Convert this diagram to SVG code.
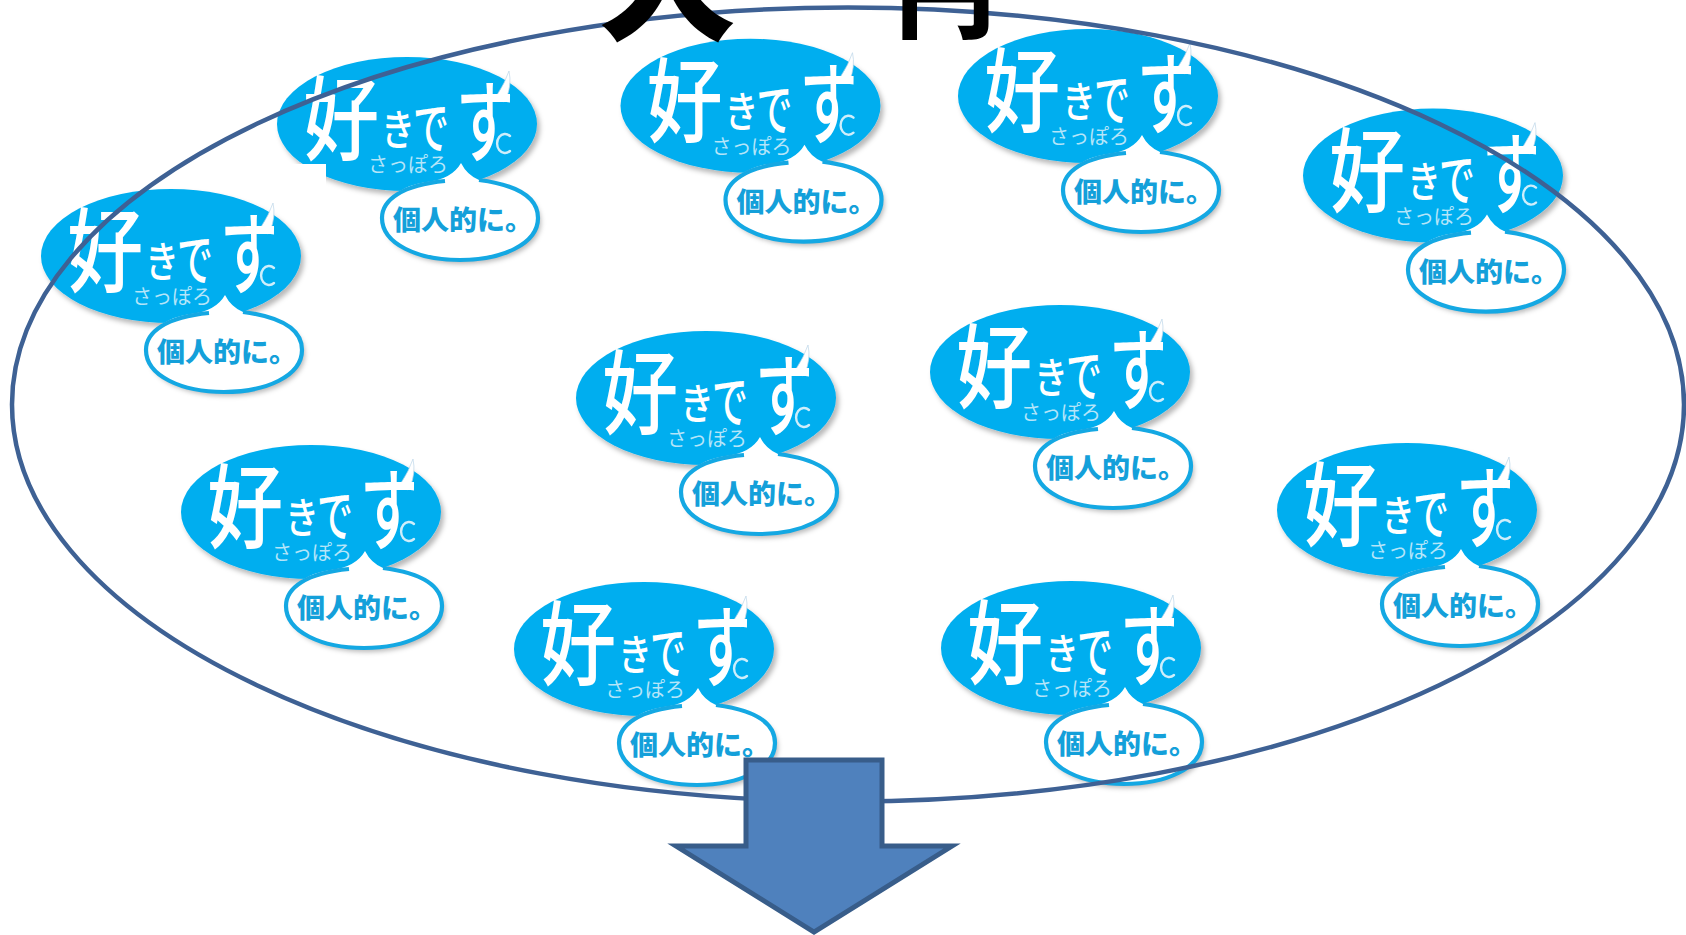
<svg xmlns="http://www.w3.org/2000/svg" width="1686" height="935" viewBox="0 0 1686 935">
<style>
.bg{fill:#fff}
.oval{fill:#00aeef}
.bub{fill:#fff}
.bubl{fill:none;stroke:#14a8e3;stroke-width:4.2}
.sh{filter:url(#s)}
.w{font-family:"Noto Sans CJK JP","Noto Sans",sans-serif;font-weight:500;fill:#fff}
.a{font-size:80px}.b{font-size:34px}.c{font-size:36px}.d{font-size:58px}
.sap{font-family:"Noto Sans CJK JP",sans-serif;font-size:20px;fill:#b5e5f9}
.kj{font-family:"Noto Sans CJK JP",sans-serif;font-weight:900;font-size:27px;fill:#14a0da}
.hk{fill:none;stroke:#cfeefb;stroke-width:2.4;stroke-linecap:round}
.q{fill:#fff;stroke:#bcd6e8;stroke-width:.7}
.ttl{font-family:"Noto Sans CJK JP",sans-serif;font-weight:900;fill:#000}
</style>
<defs>
<filter id="s" x="-10%" y="-10%" width="125%" height="125%"><feDropShadow dx="3" dy="4" stdDeviation="2.5" flood-color="#000" flood-opacity=".28"/></filter>
</defs>
<rect width="1686" height="935" fill="#fff"/>
<g id="logo-a" transform="translate(277,57)"><rect class="bg" x="-20" y="-25" width="305" height="255"/><g class="sh"><ellipse class="oval" cx="130" cy="67" rx="130" ry="67"/><path class="bub" d="M184,106Q190,118 202,123C240,128 261,140 261,161C261,187 225,203 183,203C141,203 105,187 105,161C105,143 125,128 150,125Q175,122 184,106Z"/></g><path class="bubl" d="M202,123C240,128 261,140 261,161C261,187 225,203 183,203C141,203 105,187 105,161C105,143 125,128 168,124"/><path class="q" d="M220,38Q228,26 232,14Q235,28 229,42Z"/><text class="w a" transform="translate(26,96) scale(.95,1.15)">好</text><text class="w b" transform="translate(104,88) scale(1,1.25)">き</text><text class="w c" transform="translate(136,91) scale(1,1.55)">で</text><text class="w d" transform="translate(179,98) scale(1,1.55)">す</text><path class="hk" d="M233,79A8,9.5 0 1 0 233,94"/><text class="sap" x="91" y="115" textLength="80">さっぽろ</text><text class="kj" x="116" y="173" textLength="140" lengthAdjust="spacingAndGlyphs">個人的に。</text></g>
<g id="logo-b" transform="translate(620.5,38.7)"><rect class="bg" x="-20" y="-25" width="305" height="255"/><g class="sh"><ellipse class="oval" cx="130" cy="67" rx="130" ry="67"/><path class="bub" d="M184,106Q190,118 202,123C240,128 261,140 261,161C261,187 225,203 183,203C141,203 105,187 105,161C105,143 125,128 150,125Q175,122 184,106Z"/></g><path class="bubl" d="M202,123C240,128 261,140 261,161C261,187 225,203 183,203C141,203 105,187 105,161C105,143 125,128 168,124"/><path class="q" d="M220,38Q228,26 232,14Q235,28 229,42Z"/><text class="w a" transform="translate(26,96) scale(.95,1.15)">好</text><text class="w b" transform="translate(104,88) scale(1,1.25)">き</text><text class="w c" transform="translate(136,91) scale(1,1.55)">で</text><text class="w d" transform="translate(179,98) scale(1,1.55)">す</text><path class="hk" d="M233,79A8,9.5 0 1 0 233,94"/><text class="sap" x="91" y="115" textLength="80">さっぽろ</text><text class="kj" x="116" y="173" textLength="140" lengthAdjust="spacingAndGlyphs">個人的に。</text></g>
<g id="logo-c" transform="translate(958,29)"><rect class="bg" x="-20" y="-25" width="305" height="255"/><g class="sh"><ellipse class="oval" cx="130" cy="67" rx="130" ry="67"/><path class="bub" d="M184,106Q190,118 202,123C240,128 261,140 261,161C261,187 225,203 183,203C141,203 105,187 105,161C105,143 125,128 150,125Q175,122 184,106Z"/></g><path class="bubl" d="M202,123C240,128 261,140 261,161C261,187 225,203 183,203C141,203 105,187 105,161C105,143 125,128 168,124"/><path class="q" d="M220,38Q228,26 232,14Q235,28 229,42Z"/><text class="w a" transform="translate(26,96) scale(.95,1.15)">好</text><text class="w b" transform="translate(104,88) scale(1,1.25)">き</text><text class="w c" transform="translate(136,91) scale(1,1.55)">で</text><text class="w d" transform="translate(179,98) scale(1,1.55)">す</text><path class="hk" d="M233,79A8,9.5 0 1 0 233,94"/><text class="sap" x="91" y="115" textLength="80">さっぽろ</text><text class="kj" x="116" y="173" textLength="140" lengthAdjust="spacingAndGlyphs">個人的に。</text></g>
<g id="logo-d" transform="translate(1303,108.6)"><rect class="bg" x="-20" y="-25" width="305" height="255"/><g class="sh"><ellipse class="oval" cx="130" cy="67" rx="130" ry="67"/><path class="bub" d="M184,106Q190,118 202,123C240,128 261,140 261,161C261,187 225,203 183,203C141,203 105,187 105,161C105,143 125,128 150,125Q175,122 184,106Z"/></g><path class="bubl" d="M202,123C240,128 261,140 261,161C261,187 225,203 183,203C141,203 105,187 105,161C105,143 125,128 168,124"/><path class="q" d="M220,38Q228,26 232,14Q235,28 229,42Z"/><text class="w a" transform="translate(26,96) scale(.95,1.15)">好</text><text class="w b" transform="translate(104,88) scale(1,1.25)">き</text><text class="w c" transform="translate(136,91) scale(1,1.55)">で</text><text class="w d" transform="translate(179,98) scale(1,1.55)">す</text><path class="hk" d="M233,79A8,9.5 0 1 0 233,94"/><text class="sap" x="91" y="115" textLength="80">さっぽろ</text><text class="kj" x="116" y="173" textLength="140" lengthAdjust="spacingAndGlyphs">個人的に。</text></g>
<g id="logo-e" transform="translate(41,189)"><rect class="bg" x="-20" y="-25" width="305" height="255"/><g class="sh"><ellipse class="oval" cx="130" cy="67" rx="130" ry="67"/><path class="bub" d="M184,106Q190,118 202,123C240,128 261,140 261,161C261,187 225,203 183,203C141,203 105,187 105,161C105,143 125,128 150,125Q175,122 184,106Z"/></g><path class="bubl" d="M202,123C240,128 261,140 261,161C261,187 225,203 183,203C141,203 105,187 105,161C105,143 125,128 168,124"/><path class="q" d="M220,38Q228,26 232,14Q235,28 229,42Z"/><text class="w a" transform="translate(26,96) scale(.95,1.15)">好</text><text class="w b" transform="translate(104,88) scale(1,1.25)">き</text><text class="w c" transform="translate(136,91) scale(1,1.55)">で</text><text class="w d" transform="translate(179,98) scale(1,1.55)">す</text><path class="hk" d="M233,79A8,9.5 0 1 0 233,94"/><text class="sap" x="91" y="115" textLength="80">さっぽろ</text><text class="kj" x="116" y="173" textLength="140" lengthAdjust="spacingAndGlyphs">個人的に。</text></g>
<g id="logo-f" transform="translate(576,331)"><rect class="bg" x="-20" y="-25" width="305" height="255"/><g class="sh"><ellipse class="oval" cx="130" cy="67" rx="130" ry="67"/><path class="bub" d="M184,106Q190,118 202,123C240,128 261,140 261,161C261,187 225,203 183,203C141,203 105,187 105,161C105,143 125,128 150,125Q175,122 184,106Z"/></g><path class="bubl" d="M202,123C240,128 261,140 261,161C261,187 225,203 183,203C141,203 105,187 105,161C105,143 125,128 168,124"/><path class="q" d="M220,38Q228,26 232,14Q235,28 229,42Z"/><text class="w a" transform="translate(26,96) scale(.95,1.15)">好</text><text class="w b" transform="translate(104,88) scale(1,1.25)">き</text><text class="w c" transform="translate(136,91) scale(1,1.55)">で</text><text class="w d" transform="translate(179,98) scale(1,1.55)">す</text><path class="hk" d="M233,79A8,9.5 0 1 0 233,94"/><text class="sap" x="91" y="115" textLength="80">さっぽろ</text><text class="kj" x="116" y="173" textLength="140" lengthAdjust="spacingAndGlyphs">個人的に。</text></g>
<g id="logo-g" transform="translate(930,305)"><rect class="bg" x="-20" y="-25" width="305" height="255"/><g class="sh"><ellipse class="oval" cx="130" cy="67" rx="130" ry="67"/><path class="bub" d="M184,106Q190,118 202,123C240,128 261,140 261,161C261,187 225,203 183,203C141,203 105,187 105,161C105,143 125,128 150,125Q175,122 184,106Z"/></g><path class="bubl" d="M202,123C240,128 261,140 261,161C261,187 225,203 183,203C141,203 105,187 105,161C105,143 125,128 168,124"/><path class="q" d="M220,38Q228,26 232,14Q235,28 229,42Z"/><text class="w a" transform="translate(26,96) scale(.95,1.15)">好</text><text class="w b" transform="translate(104,88) scale(1,1.25)">き</text><text class="w c" transform="translate(136,91) scale(1,1.55)">で</text><text class="w d" transform="translate(179,98) scale(1,1.55)">す</text><path class="hk" d="M233,79A8,9.5 0 1 0 233,94"/><text class="sap" x="91" y="115" textLength="80">さっぽろ</text><text class="kj" x="116" y="173" textLength="140" lengthAdjust="spacingAndGlyphs">個人的に。</text></g>
<g id="logo-h" transform="translate(181,445)"><rect class="bg" x="-20" y="-25" width="305" height="255"/><g class="sh"><ellipse class="oval" cx="130" cy="67" rx="130" ry="67"/><path class="bub" d="M184,106Q190,118 202,123C240,128 261,140 261,161C261,187 225,203 183,203C141,203 105,187 105,161C105,143 125,128 150,125Q175,122 184,106Z"/></g><path class="bubl" d="M202,123C240,128 261,140 261,161C261,187 225,203 183,203C141,203 105,187 105,161C105,143 125,128 168,124"/><path class="q" d="M220,38Q228,26 232,14Q235,28 229,42Z"/><text class="w a" transform="translate(26,96) scale(.95,1.15)">好</text><text class="w b" transform="translate(104,88) scale(1,1.25)">き</text><text class="w c" transform="translate(136,91) scale(1,1.55)">で</text><text class="w d" transform="translate(179,98) scale(1,1.55)">す</text><path class="hk" d="M233,79A8,9.5 0 1 0 233,94"/><text class="sap" x="91" y="115" textLength="80">さっぽろ</text><text class="kj" x="116" y="173" textLength="140" lengthAdjust="spacingAndGlyphs">個人的に。</text></g>
<g id="logo-i" transform="translate(1277,443)"><rect class="bg" x="-20" y="-25" width="305" height="255"/><g class="sh"><ellipse class="oval" cx="130" cy="67" rx="130" ry="67"/><path class="bub" d="M184,106Q190,118 202,123C240,128 261,140 261,161C261,187 225,203 183,203C141,203 105,187 105,161C105,143 125,128 150,125Q175,122 184,106Z"/></g><path class="bubl" d="M202,123C240,128 261,140 261,161C261,187 225,203 183,203C141,203 105,187 105,161C105,143 125,128 168,124"/><path class="q" d="M220,38Q228,26 232,14Q235,28 229,42Z"/><text class="w a" transform="translate(26,96) scale(.95,1.15)">好</text><text class="w b" transform="translate(104,88) scale(1,1.25)">き</text><text class="w c" transform="translate(136,91) scale(1,1.55)">で</text><text class="w d" transform="translate(179,98) scale(1,1.55)">す</text><path class="hk" d="M233,79A8,9.5 0 1 0 233,94"/><text class="sap" x="91" y="115" textLength="80">さっぽろ</text><text class="kj" x="116" y="173" textLength="140" lengthAdjust="spacingAndGlyphs">個人的に。</text></g>
<g id="logo-j" transform="translate(514,582)"><rect class="bg" x="-20" y="-25" width="305" height="255"/><g class="sh"><ellipse class="oval" cx="130" cy="67" rx="130" ry="67"/><path class="bub" d="M184,106Q190,118 202,123C240,128 261,140 261,161C261,187 225,203 183,203C141,203 105,187 105,161C105,143 125,128 150,125Q175,122 184,106Z"/></g><path class="bubl" d="M202,123C240,128 261,140 261,161C261,187 225,203 183,203C141,203 105,187 105,161C105,143 125,128 168,124"/><path class="q" d="M220,38Q228,26 232,14Q235,28 229,42Z"/><text class="w a" transform="translate(26,96) scale(.95,1.15)">好</text><text class="w b" transform="translate(104,88) scale(1,1.25)">き</text><text class="w c" transform="translate(136,91) scale(1,1.55)">で</text><text class="w d" transform="translate(179,98) scale(1,1.55)">す</text><path class="hk" d="M233,79A8,9.5 0 1 0 233,94"/><text class="sap" x="91" y="115" textLength="80">さっぽろ</text><text class="kj" x="116" y="173" textLength="140" lengthAdjust="spacingAndGlyphs">個人的に。</text></g>
<g id="logo-k" transform="translate(941,581)"><rect class="bg" x="-20" y="-25" width="305" height="255"/><g class="sh"><ellipse class="oval" cx="130" cy="67" rx="130" ry="67"/><path class="bub" d="M184,106Q190,118 202,123C240,128 261,140 261,161C261,187 225,203 183,203C141,203 105,187 105,161C105,143 125,128 150,125Q175,122 184,106Z"/></g><path class="bubl" d="M202,123C240,128 261,140 261,161C261,187 225,203 183,203C141,203 105,187 105,161C105,143 125,128 168,124"/><path class="q" d="M220,38Q228,26 232,14Q235,28 229,42Z"/><text class="w a" transform="translate(26,96) scale(.95,1.15)">好</text><text class="w b" transform="translate(104,88) scale(1,1.25)">き</text><text class="w c" transform="translate(136,91) scale(1,1.55)">で</text><text class="w d" transform="translate(179,98) scale(1,1.55)">す</text><path class="hk" d="M233,79A8,9.5 0 1 0 233,94"/><text class="sap" x="91" y="115" textLength="80">さっぽろ</text><text class="kj" x="116" y="173" textLength="140" lengthAdjust="spacingAndGlyphs">個人的に。</text></g>
<g id="big-oval"><ellipse cx="848" cy="404.5" rx="836" ry="397" fill="none" stroke="#3e6194" stroke-width="4.5"/></g>
<g id="title"><text class="ttl" x="597" y="29" font-size="140">大</text><text class="ttl" x="895" y="30" font-size="100">円</text></g>
<g id="arrow"><path d="M746,760H882V846H952L814,932L676,846H746Z" fill="#4f81bd" stroke="#385d8a" stroke-width="5" stroke-miterlimit="10"/></g>
</svg>
